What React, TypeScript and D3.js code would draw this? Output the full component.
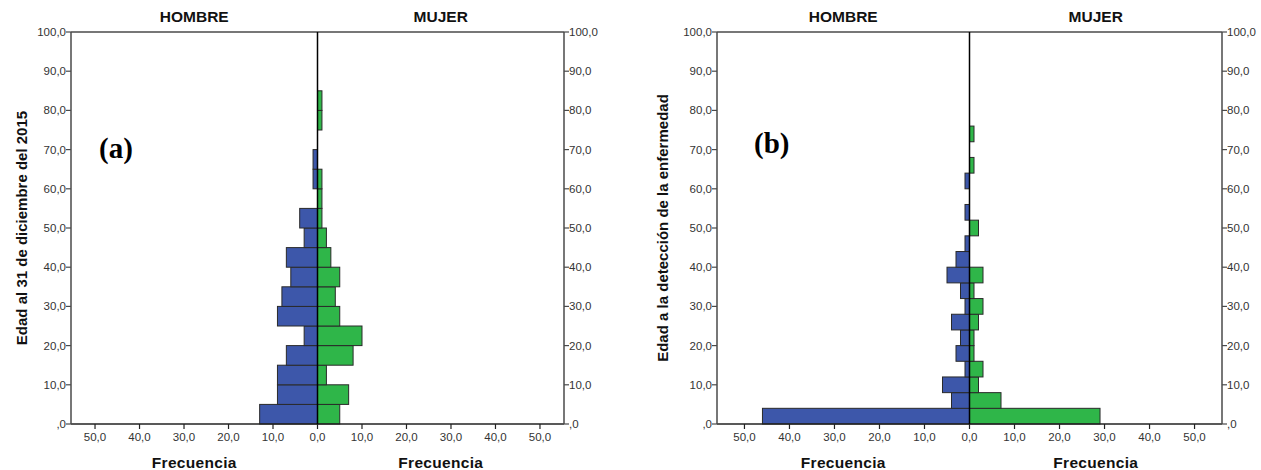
import React from "react";
import * as d3 from "d3";

// ---- Data ----
// Panel (a): 5-year bins, Edad al 31 de diciembre del 2015
const binStartA = [0, 5, 10, 15, 20, 25, 30, 35, 40, 45, 50, 55, 60, 65, 70, 75, 80];
const binWidthA = 5;
const hombreA = [13, 9, 9, 7, 3, 9, 8, 6, 7, 3, 4, 0, 1, 1, 0, 0, 0];
const mujerA = [5, 7, 2, 8, 10, 5, 4, 5, 3, 2, 1, 1, 1, 0, 0, 1, 1];

// Panel (b): 4-year bins, Edad a la detección de la enfermedad
const binStartB = [0, 4, 8, 12, 16, 20, 24, 28, 32, 36, 40, 44, 48, 52, 56, 60, 64, 68, 72];
const binWidthB = 4;
const hombreB = [46, 4, 6, 1, 3, 2, 4, 1, 2, 5, 3, 1, 0, 1, 0, 1, 0, 0, 0];
const mujerB = [29, 7, 2, 3, 1, 1, 2, 3, 1, 3, 0, 0, 2, 0, 0, 0, 1, 0, 1];

const yTicks = [0, 10, 20, 30, 40, 50, 60, 70, 80, 90, 100];
const xTicks = [-50, -40, -30, -20, -10, 0, 10, 20, 30, 40, 50];

const BLUE = "#3d57aa";
const GREEN = "#2fb649";
const SANS = "'Liberation Sans', Arial, Helvetica, sans-serif";
const SERIF = "'Liberation Serif', 'Times New Roman', serif";

const fmtY = (v: number) => (v === 0 ? ",0" : `${v},0`);
const fmtX = (v: number) => `${Math.abs(v)},0`;

type PanelProps = {
  left: number;
  right: number;
  top: number;
  bottom: number;
  xMax: number;
  starts: number[];
  width: number;
  hombre: number[];
  mujer: number[];
  yTitle: string;
  yTitleX: number;
  tag: string;
  tagX: number;
  tagY: number;
};

function Panel(p: PanelProps) {
  const x = d3.scaleLinear().domain([-p.xMax, p.xMax]).range([p.left, p.right]);
  const y = d3.scaleLinear().domain([0, 100]).range([p.bottom, p.top]);
  const cx = x(0);
  const axisColor = "#4a4a4a";
  const textColor = "#333";
  return (
    <g>
      {/* bars */}
      {p.starts.map((s, i) =>
        p.hombre[i] > 0 ? (
          <rect
            key={"h" + i}
            x={x(-p.hombre[i])}
            y={y(s + p.width)}
            width={cx - x(-p.hombre[i])}
            height={y(s) - y(s + p.width)}
            fill={BLUE}
            stroke="#2a2a2a"
            strokeWidth={1}
          />
        ) : null
      )}
      {p.starts.map((s, i) =>
        p.mujer[i] > 0 ? (
          <rect
            key={"m" + i}
            x={cx}
            y={y(s + p.width)}
            width={x(p.mujer[i]) - cx}
            height={y(s) - y(s + p.width)}
            fill={GREEN}
            stroke="#2a2a2a"
            strokeWidth={1}
          />
        ) : null
      )}
      {/* frame */}
      <line x1={p.left} x2={p.right} y1={p.top} y2={p.top} stroke={axisColor} strokeWidth={1.5} />
      <line x1={p.left} x2={p.right} y1={p.bottom} y2={p.bottom} stroke="#222" strokeWidth={1.5} />
      <line x1={p.left} x2={p.left} y1={p.top} y2={p.bottom} stroke={axisColor} strokeWidth={1.5} />
      <line x1={p.right} x2={p.right} y1={p.top} y2={p.bottom} stroke={axisColor} strokeWidth={1.5} />
      {/* center line */}
      <line x1={cx} x2={cx} y1={p.top} y2={p.bottom} stroke="#000" strokeWidth={1.5} />
      {/* y ticks */}
      {yTicks.map((t) => (
        <g key={"y" + t}>
          <line x1={p.left - 5} x2={p.left} y1={y(t)} y2={y(t)} stroke={axisColor} strokeWidth={1.2} />
          <text x={p.left - 5} y={y(t) + 4} textAnchor="end" fontSize={11.5} fontFamily={SANS} fill={textColor}>
            {fmtY(t)}
          </text>
          <line x1={p.right} x2={p.right + 5} y1={y(t)} y2={y(t)} stroke={axisColor} strokeWidth={1.2} />
          <text x={p.right + 5} y={y(t) + 4} textAnchor="start" fontSize={11.5} fontFamily={SANS} fill={textColor}>
            {fmtY(t)}
          </text>
        </g>
      ))}
      {/* x ticks */}
      {xTicks.map((t) => (
        <g key={"x" + t}>
          <line x1={x(t)} x2={x(t)} y1={p.bottom} y2={p.bottom + 5} stroke="#222" strokeWidth={1.2} />
          <text x={x(t)} y={p.bottom + 17} textAnchor="middle" fontSize={11.5} fontFamily={SANS} fill={textColor}>
            {fmtX(t)}
          </text>
        </g>
      ))}
      {/* headers */}
      <text x={(p.left + cx) / 2} y={22} textAnchor="middle" fontSize={15.5} fontWeight="bold" fontFamily={SANS} fill="#111">
        HOMBRE
      </text>
      <text x={(cx + p.right) / 2} y={22} textAnchor="middle" fontSize={15.5} fontWeight="bold" fontFamily={SANS} fill="#111">
        MUJER
      </text>
      <text x={(p.left + cx) / 2} y={468} textAnchor="middle" fontSize={15.5} fontWeight="bold" fontFamily={SANS} fill="#111" letterSpacing={0.3}>
        Frecuencia
      </text>
      <text x={(cx + p.right) / 2} y={468} textAnchor="middle" fontSize={15.5} fontWeight="bold" fontFamily={SANS} fill="#111" letterSpacing={0.3}>
        Frecuencia
      </text>
      {/* y title */}
      <text
        transform={`translate(${p.yTitleX},${(p.top + p.bottom) / 2}) rotate(-90)`}
        textAnchor="middle"
        fontSize={15}
        fontWeight="bold"
        fontFamily={SANS}
        fill="#111"
      >
        {p.yTitle}
      </text>
      {/* panel tag */}
      <text x={p.tagX} y={p.tagY} fontSize={29} fontWeight="bold" fontFamily={SERIF} fill="#000">
        {p.tag}
      </text>
    </g>
  );
}

export default function App() {
  return (
    <svg
      width={1261}
      height={470}
      viewBox="0 0 1261 470"
      style={{ position: "absolute", left: 0, top: 0, display: "block", background: "#fff" }}
    >
      <rect x={0} y={0} width={1261} height={470} fill="#fff" />
      <Panel
        left={71}
        right={564}
        top={32}
        bottom={424}
        xMax={55.4}
        starts={binStartA}
        width={binWidthA}
        hombre={hombreA}
        mujer={mujerA}
        yTitle="Edad al 31 de diciembre del 2015"
        yTitleX={27}
        tag="(a)"
        tagX={99}
        tagY={158}
      />
      <Panel
        left={717}
        right={1222}
        top={32}
        bottom={424}
        xMax={56.1}
        starts={binStartB}
        width={binWidthB}
        hombre={hombreB}
        mujer={mujerB}
        yTitle="Edad a la detección de la enfermedad"
        yTitleX={668}
        tag="(b)"
        tagX={754}
        tagY={153}
      />
    </svg>
  );
}
